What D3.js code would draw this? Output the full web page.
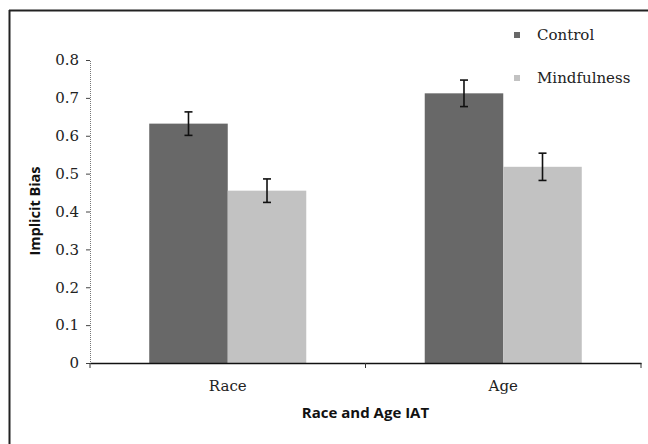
<!DOCTYPE html>
<html>
<head>
<meta charset="utf-8">
<script src="https://cdn.jsdelivr.net/npm/d3@7"></script>
<style>
  body { margin: 0; background: #fff; }
  svg { display: block; }
</style>
</head>
<body>
<div id="chart"></div>
<script>
// data
var categories = ["Race", "Age"];
var groups = ["Control", "Mindfulness"];
var controlValues = [0.632, 0.712];
var mindfulnessValues = [0.455, 0.518];
var controlErrors = [0.031, 0.035];
var mindfulnessErrors = [0.031, 0.036];
var yTicks = [0, 0.1, 0.2, 0.3, 0.4, 0.5, 0.6, 0.7, 0.8];

var width = 648, height = 444;
var margin = {left: 90, right: 7, top: 60, bottom: 81};

var svg = d3.select("#chart").append("svg")
    .attr("width", width)
    .attr("height", height);

// frame (only top and left edges show in the scan)
svg.append("line")
    .attr("x1", 9).attr("x2", width)
    .attr("y1", 10.5).attr("y2", 10.5)
    .attr("stroke", "#222").attr("stroke-width", 2);
svg.append("line")
    .attr("x1", 9.5).attr("x2", 9.5)
    .attr("y1", 10).attr("y2", height)
    .attr("stroke", "#222").attr("stroke-width", 2);

var x = d3.scaleBand()
    .domain(categories)
    .range([margin.left, width - margin.right])
    .paddingInner(0.43)
    .paddingOuter(0.215);

var x1 = d3.scaleBand()
    .domain(groups)
    .range([0, x.bandwidth()]);

var y = d3.scaleLinear()
    .domain([0, 0.8])
    .range([height - margin.bottom, margin.top]);

var fills = {Control: "#686868", Mindfulness: "#c2c2c2"};

var rows = categories.map(function (c, i) {
    return [
        {cat: c, group: "Control", value: controlValues[i], err: controlErrors[i]},
        {cat: c, group: "Mindfulness", value: mindfulnessValues[i], err: mindfulnessErrors[i]}
    ];
});
var bars = d3.merge(rows);

var barG = svg.append("g");

barG.selectAll("rect")
    .data(bars)
    .enter().append("rect")
    .attr("x", function (d) { return x(d.cat) + x1(d.group); })
    .attr("y", function (d) { return y(d.value); })
    .attr("width", x1.bandwidth())
    .attr("height", function (d) { return y(0) - y(d.value); })
    .attr("fill", function (d) { return fills[d.group]; });

// error bars
var eb = barG.selectAll(".err")
    .data(bars)
    .enter().append("g")
    .attr("class", "err")
    .attr("stroke", "#111")
    .attr("stroke-width", 1.6);

function cx(d) { return x(d.cat) + x1(d.group) + x1.bandwidth() / 2; }

eb.append("line")
    .attr("x1", cx).attr("x2", cx)
    .attr("y1", function (d) { return y(d.value + d.err); })
    .attr("y2", function (d) { return y(d.value - d.err); });
eb.append("line")
    .attr("x1", function (d) { return cx(d) - 4; })
    .attr("x2", function (d) { return cx(d) + 4; })
    .attr("y1", function (d) { return y(d.value + d.err); })
    .attr("y2", function (d) { return y(d.value + d.err); });
eb.append("line")
    .attr("x1", function (d) { return cx(d) - 4; })
    .attr("x2", function (d) { return cx(d) + 4; })
    .attr("y1", function (d) { return y(d.value - d.err); })
    .attr("y2", function (d) { return y(d.value - d.err); });

// y axis
var yAxis = svg.append("g")
    .attr("transform", "translate(" + margin.left + ",0)")
    .call(d3.axisLeft(y).tickValues(yTicks).tickSize(4).tickPadding(7)
        .tickFormat(function (d) { return d === 0 ? "0" : d3.format(".1f")(d); }));
yAxis.select(".domain").attr("stroke", "#777").attr("stroke-dasharray", "1,1");
yAxis.selectAll(".tick line").attr("stroke", "#444");
yAxis.selectAll("text")
    .attr("font-family", "DejaVu Serif")
    .attr("font-size", 15)
    .attr("fill", "#222");

// x axis
var xAxis = svg.append("g")
    .attr("transform", "translate(0," + y(0) + ")")
    .call(d3.axisBottom(x).tickSize(0).tickPadding(17));
xAxis.select(".domain").attr("stroke", "#111").attr("stroke-width", 1.4);
xAxis.selectAll("text")
    .attr("font-family", "DejaVu Serif")
    .attr("font-size", 15)
    .attr("fill", "#222");

// tick marks between/after the categories
var bounds = [margin.left, (margin.left + width - margin.right) / 2, width - margin.right];
svg.append("g").selectAll("line")
    .data(bounds)
    .enter().append("line")
    .attr("x1", function (d) { return d; })
    .attr("x2", function (d) { return d; })
    .attr("y1", y(0))
    .attr("y2", y(0) + 5)
    .attr("stroke", "#333");

// axis titles
svg.append("text")
    .attr("x", (margin.left + width - margin.right) / 2)
    .attr("y", 418)
    .attr("text-anchor", "middle")
    .attr("font-family", "Open Sans")
    .attr("font-weight", "bold")
    .attr("font-size", 15)
    .attr("fill", "#111")
    .text("Race and Age IAT");

svg.append("text")
    .attr("transform", "translate(40," + 211 + ") rotate(-90)")
    .attr("text-anchor", "middle")
    .attr("font-family", "Open Sans")
    .attr("font-weight", "bold")
    .attr("font-size", 14.5)
    .attr("fill", "#111")
    .text("Implicit Bias");

// legend
var legend = svg.append("g").selectAll("g")
    .data(groups)
    .enter().append("g")
    .attr("transform", function (d, i) { return "translate(517," + (35 + i * 43) + ")"; });
legend.append("rect")
    .attr("x", -3).attr("y", -3)
    .attr("width", 6).attr("height", 6)
    .attr("fill", function (d) { return fills[d]; });
legend.append("text")
    .attr("x", 20)
    .attr("dy", "0.35em")
    .attr("font-family", "DejaVu Serif")
    .attr("font-size", 15)
    .attr("fill", "#222")
    .text(function (d) { return d; });
</script>
</body>
</html>
